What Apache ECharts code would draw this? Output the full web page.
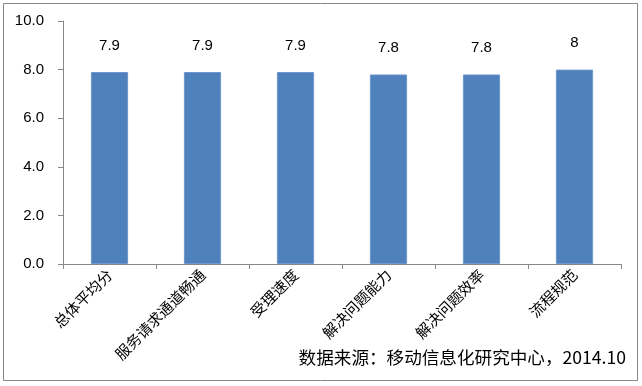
<!DOCTYPE html>
<html><head><meta charset="utf-8">
<script src="https://cdn.jsdelivr.net/npm/echarts@6/dist/echarts.min.js"></script>
<style>html,body{margin:0;padding:0;background:#fff}#c{width:642px;height:386px}</style>
</head><body><div id="c"></div>
<script>
const categories = ['总体平均分','服务请求通道畅通','受理速度','解决问题能力','解决问题效率','流程规范'];
const values = [7.9, 7.9, 7.9, 7.8, 7.8, 8];
const sourceText = '数据来源：移动信息化研究中心，2014.10';
const font = '"Noto Sans CJK SC", "Liberation Sans", sans-serif';
const numFont = '"Liberation Sans", "DejaVu Sans", sans-serif';
const chart = echarts.init(document.getElementById('c'));
chart.setOption({
  animation: false,
  backgroundColor: '#fff',
  grid: {left: 63, right: 21, top: 21, bottom: 122, containLabel: false},
  xAxis: {
    type: 'category', data: categories,
    axisLine: {lineStyle: {color: '#888', width: 1}},
    axisTick: {show: true, length: 5, lineStyle: {color: '#888'}},
    axisLabel: {rotate: 45, margin: 8, fontSize: 15, color: '#000', fontFamily: font, interval: 0}
  },
  yAxis: {
    type: 'value', min: 0, max: 10, interval: 2,
    splitLine: {show: false},
    axisLine: {show: true, lineStyle: {color: '#888', width: 1}},
    axisTick: {show: true, length: 5, lineStyle: {color: '#888'}},
    axisLabel: {margin: 19, fontSize: 15, color: '#000', fontFamily: numFont, formatter: v => v.toFixed(1)}
  },
  series: [{
    type: 'bar', data: values, barWidth: '40%',
    itemStyle: {color: '#4F81BD', borderColor: '#6F97CC', borderWidth: 1},
    label: {show: true, position: 'top', distance: 19, fontSize: 15, color: '#000', fontFamily: numFont}
  }],
  graphic: [
    {type: 'rect', shape: {x: 3.5, y: 3.5, width: 634, height: 377}, style: {fill: 'none', stroke: '#888', lineWidth: 1}, silent: true},
    {type: 'text', right: 16, top: 349, style: {text: sourceText, fill: '#000', font: '17.6px ' + font}}
  ]
});
</script></body></html>
